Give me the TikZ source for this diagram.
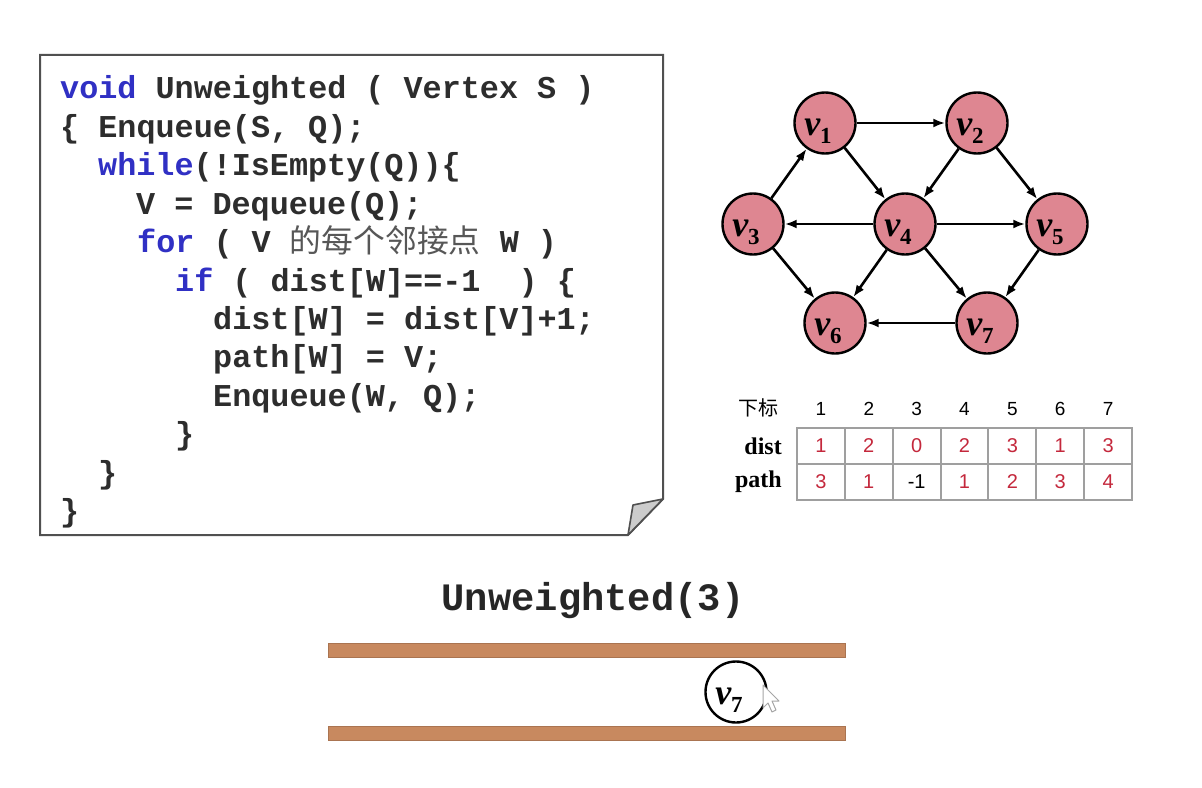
\documentclass[tikz,border=0pt]{standalone}
\usepackage{fontspec}
\setmainfont{Liberation Serif}
\setmonofont{Liberation Mono}
\newfontfamily\cjk{Noto Sans CJK SC}
\newfontfamily\lsans{Liberation Sans}
\newfontfamily\lserif{Liberation Serif}
\usetikzlibrary{arrows.meta}
\definecolor{codetxt}{RGB}{45,45,45}
\definecolor{kw}{RGB}{48,48,196}
\definecolor{vfill}{RGB}{222,134,145}
\definecolor{cellred}{RGB}{196,40,60}
\definecolor{wood}{RGB}{200,137,95}
\definecolor{boxline}{RGB}{80,80,80}
\tikzset{
  codeline/.style={anchor=base west, inner sep=0pt, text=codetxt,
    font=\ttfamily\bfseries\fontsize{31.8bp}{38.4bp}\selectfont},
  vert/.style={circle, draw=black, line width=2.4bp, fill=vfill, minimum size=61bp, inner sep=0pt,
    font=\lserif\bfseries\fontsize{36bp}{36bp}\selectfont},
  qvert/.style={vert, fill=white},
  edge/.style={line width=2.6bp, -{Latex[length=12bp,width=9bp]}},
  hdr/.style={inner sep=0pt, font=\lsans\fontsize{19bp}{19bp}\selectfont, text=black},
  rowlab/.style={anchor=east, inner sep=0pt, font=\lserif\bfseries\fontsize{24bp}{24bp}\selectfont},
  cell/.style={inner sep=0pt, font=\lsans\fontsize{20bp}{20bp}\selectfont, text=cellred},
  bar/.style={fill=wood, draw=wood!85!black, line width=0.6bp}
}
\newcommand{\vlab}[1]{\raisebox{-12bp}[0pt][0pt]{\itshape v\raisebox{-8bp}{\upshape\fontsize{23bp}{23bp}\selectfont #1}}\hspace*{14bp}}
\newcommand{\kwd}[1]{\textcolor{kw}{#1}}
\begin{document}
\begin{tikzpicture}[x=1bp,y=-1bp]
\useasboundingbox[fill=white] (0,0) rectangle (1202,788);
% code box
\draw[line width=2bp, draw=boxline, fill=white] (40,55) -- (663,55) -- (663,499) -- (628,535) -- (40,535) -- cycle;
\draw[line width=1.6bp, draw=boxline, fill=gray!40, line join=round] (628,535) -- (633,505) -- (663,499) -- cycle;
\node[codeline] (c0) at (60,99.0) {\kwd{void} Unweighted ( Vertex S )};
\node[codeline] (c1) at (60,137.4) {\{ Enqueue(S, Q);};
\node[codeline] (c2) at (98,175.8) {\kwd{while}(!IsEmpty(Q))\{};
\node[codeline] (c3) at (136,214.2) {V = Dequeue(Q);};
\node[codeline] (c4) at (137,252.6) {\kwd{for} ( V {\cjk\mdseries\color{codetxt!80}的每个邻接点} W )};
\node[codeline] (c5) at (175,291.0) {\kwd{if} ( dist[W]==-1\ \ ) \{};
\node[codeline] (c6) at (213,329.4) {dist[W] = dist[V]+1;};
\node[codeline] (c7) at (213,367.8) {path[W] = V;};
\node[codeline] (c8) at (213,406.2) {Enqueue(W, Q);};
\node[codeline] (c9) at (175,444.6) {\}};
\node[codeline] (c10) at (98,483.0) {\}};
\node[codeline] (c11) at (60,521.4) {\}};
% graph
\node[vert] (v1) at (825,123) {\vlab{1}};
\node[vert] (v2) at (977,123) {\vlab{2}};
\node[vert] (v3) at (753,224) {\vlab{3}};
\node[vert] (v4) at (905,224) {\vlab{4}};
\node[vert] (v5) at (1057,224) {\vlab{5}};
\node[vert] (v6) at (835,323) {\vlab{6}};
\node[vert] (v7) at (987,323) {\vlab{7}};
\draw[edge] (v1) -- (v2);
\draw[edge] (v1) -- (v4);
\draw[edge] (v2) -- (v4);
\draw[edge] (v2) -- (v5);
\draw[edge] (v3) -- (v1);
\draw[edge] (v3) -- (v6);
\draw[edge] (v4) -- (v3);
\draw[edge] (v4) -- (v5);
\draw[edge] (v4) -- (v6);
\draw[edge] (v4) -- (v7);
\draw[edge] (v5) -- (v7);
\draw[edge] (v7) -- (v6);
% table
\node[inner sep=0pt, font=\cjk\fontsize{20bp}{20bp}\selectfont] (hx) at (758,408) {下标};
\foreach \i in {1,...,7}{
  \node[hdr] (h\i) at ({797+47.86*(\i-0.5)},409) {\i};
}
\node[rowlab] (ldist) at (782,446) {dist};
\node[rowlab] (lpath) at (782,482) {path};
\draw[line width=2bp, draw=gray!75] (797,428) rectangle (1132,500);
\draw[line width=2bp, draw=gray!75] (797,464) -- (1132,464);
\foreach \i in {1,...,6}{
  \draw[line width=2bp, draw=gray!75] ({797+47.86*\i},428) -- ({797+47.86*\i},500);
}
\foreach \v [count=\i] in {1,2,0,2,3,1,3}{
  \node[cell] (d\i) at ({797+47.86*(\i-0.5)},446) {\v};
}
\foreach \v [count=\i] in {3,1,{\textcolor{black}{-1}},1,2,3,4}{
  \node[cell] (p\i) at ({797+47.86*(\i-0.5)},482) {\v};
}
% queue
\node[inner sep=0pt, text=black!85, font=\ttfamily\bfseries\fontsize{38.8bp}{38.8bp}\selectfont] (call) at (593,601) {Unweighted(3)};
\draw[bar] (328,643) rectangle (845,657);
\draw[bar] (328,726) rectangle (845,740);
\node[qvert] (q7) at (736,692) {\vlab{7}};
% cursor
\draw[fill=white, draw=gray!70, line width=1bp, line join=round] (763,685) -- (763,708) -- (768,703) -- (772,712) -- (776,710) -- (772,701) -- (779,701) -- cycle;
\end{tikzpicture}
\end{document}
